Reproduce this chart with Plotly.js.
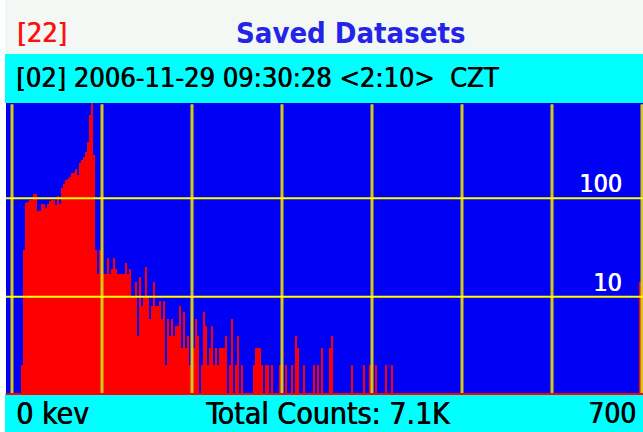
<!DOCTYPE html>
<html>
<head>
<meta charset="utf-8">
<script src="https://cdn.plot.ly/plotly-3.0.1.min.js"></script>
<style>
html,body{margin:0;padding:0;background:#ffffff;}
#chart{width:643px;height:432px;}
</style>
</head>
<body>
<div id="chart"></div>
<script>
// ---- data ----
const keVPerChannel = 100 / 45;          // 45 channels per 100 keV
// counts per channel, channels 0..191
const counts = [
  0,0,0,0,0,2,30,89,92,95,
  95,110,110,75,75,87,87,80,87,93,
  96,96,85,105,87,127,139,153,158,164,
  180,180,197,172,229,245,263,298,376,700,
  950,275,30,17,30,24,17,17,25,17,
  19,25,19,17,17,17,17,22,17,19,
  10,10,14,4,16,8,10,20,10,6,
  8,14,8,8,9,6,9,2,6,4,
  6,4,5,5,8,3,7,3,4,2,
  3,3,6,4,0,2,7,5,2,3,
  5,2,3,2,3,3,3,4,0,2,
  6,0,2,4,0,2,0,0,0,0,
  0,2,3,3,3,2,0,2,2,0,
  2,0,0,0,2,0,0,2,0,0,
  2,0,4,3,0,0,2,0,0,0,
  0,2,0,2,0,3,0,0,0,3,
  4,0,0,0,0,0,0,0,0,0,
  2,0,0,0,0,0,2,0,0,2,
  0,0,2,0,0,0,0,2,0,0,
  2,0
];
// overflow channels at the right edge
const edgeChannels = [314, 315];
const edgeCounts = [14, 14];

const gridKeV = [0, 100, 200, 300, 400, 500, 600, 700];
const gridCounts = [10, 100];
const gridLabels = ['10', '100'];

const titleLeft = '[22]';
const titleMain = 'Saved Datasets';
const infoLine = '[02] 2006-11-29 09:30:28 &lt;2:10&gt;&nbsp;&nbsp;CZT';
const footLeft = '0 kev';
const footMid = 'Total Counts: 7.1K';
const footRight = '700';

// ---- build traces ----
const chX = [], chY = [];
counts.forEach((c, i) => { chX.push(i * keVPerChannel); chY.push(c > 0 ? c : null); });
edgeChannels.forEach((ch, j) => { chX.push(ch * keVPerChannel); chY.push(edgeCounts[j]); });

const bars = {
  type: 'bar', x: chX, y: chY, width: keVPerChannel,
  marker: {color: '#ff0000', line: {width: 0}},
  hoverinfo: 'skip', showlegend: false
};

const vx = [], vy = [];
gridKeV.forEach(g => { vx.push(g, g, null); vy.push(0.5, 900, null); });
const vGrid = {type: 'scatter', mode: 'lines', x: vx, y: vy,
  line: {color: '#d4c818', width: 3}, hoverinfo: 'skip', showlegend: false};

const hx = [], hy = [];
gridCounts.forEach(v => { hx.push(-50, 800, null); hy.push(v, v, null); });
const hGrid = {type: 'scatter', mode: 'lines', x: hx, y: hy,
  line: {color: '#ffff00', width: 2}, hoverinfo: 'skip', showlegend: false};

// ---- layout ----
const W = 643, H = 432, ML = 6, MT = 103, MB = 39;
const PW = W - ML, PH = H - MT - MB;
const px2x = x => (x - ML) / PW;
const py2y = y => (H - MB - y) / PH;

const FONT = 'DejaVu Sans Condensed, Liberation Sans Narrow, DejaVu Sans, sans-serif';
const thick = c => '0.7px 0 0 ' + c;

const annotations = [
  {text: titleLeft, x: px2x(15), y: py2y(33), xanchor: 'left', yanchor: 'middle',
   font: {family: FONT, size: 27, color: '#ff1010', shadow: thick('#ff1010')}},
  {text: '<b>' + titleMain + '</b>', x: px2x(350), y: py2y(33), xanchor: 'center', yanchor: 'middle',
   font: {family: FONT, size: 29, color: '#2424e8'}},
  {text: infoLine, x: px2x(14), y: py2y(77), xanchor: 'left', yanchor: 'middle',
   font: {family: FONT, size: 27, color: '#000000', shadow: thick('#000000')}},
  {text: footLeft, x: px2x(14), y: py2y(413), xanchor: 'left', yanchor: 'middle',
   font: {family: FONT, size: 30, color: '#000000', shadow: thick('#000000')}},
  {text: footMid, x: px2x(328), y: py2y(413), xanchor: 'center', yanchor: 'middle',
   font: {family: FONT, size: 30, color: '#000000', shadow: thick('#000000')}},
  {text: footRight, x: px2x(638), y: py2y(413), xanchor: 'right', yanchor: 'middle',
   font: {family: FONT, size: 28, color: '#000000', shadow: thick('#000000')}}
];
gridCounts.forEach((v, i) => {
  annotations.push({text: gridLabels[i], xref: 'paper', yref: 'y', x: px2x(624), y: Math.log10(v),
    xanchor: 'right', yanchor: 'bottom', yshift: -2,
    font: {family: FONT, size: 25, color: '#ffffff', shadow: thick('#ffffff')}});
});
annotations.forEach(a => { if (!a.xref) { a.xref = 'paper'; a.yref = 'paper'; } a.showarrow = false; });

const shapes = [
  {type: 'rect', xref: 'paper', yref: 'paper', x0: px2x(5), x1: 1.01, y0: py2y(54), y1: py2y(0),
   fillcolor: '#f4f8f4', line: {width: 0}, layer: 'below'},
  {type: 'rect', xref: 'paper', yref: 'paper', x0: px2x(5), x1: 1.01, y0: py2y(103), y1: py2y(54),
   fillcolor: '#00ffff', line: {width: 0}, layer: 'below'},
  {type: 'rect', xref: 'paper', yref: 'paper', x0: px2x(5), x1: 1.01, y0: py2y(432), y1: py2y(393),
   fillcolor: '#00ffff', line: {width: 0}, layer: 'below'}
];

const layout = {
  width: W, height: H,
  margin: {l: ML, r: 0, t: MT, b: MB, pad: 0},
  paper_bgcolor: '#ffffff', plot_bgcolor: '#0000f4',
  bargap: 0, showlegend: false,
  xaxis: {range: [-ML / 0.9, -ML / 0.9 + PW / 0.9], showgrid: false, zeroline: false,
    showticklabels: false, ticks: '', showline: true, linecolor: '#ff0000', linewidth: 2, fixedrange: true},
  yaxis: {type: 'log', range: [0.0213, 2.968], showgrid: false, zeroline: false,
    showticklabels: false, ticks: '', showline: false, fixedrange: true},
  annotations: annotations,
  shapes: shapes
};

Plotly.newPlot('chart', [bars, vGrid, hGrid], layout, {staticPlot: true, displayModeBar: false});
</script>
</body>
</html>
